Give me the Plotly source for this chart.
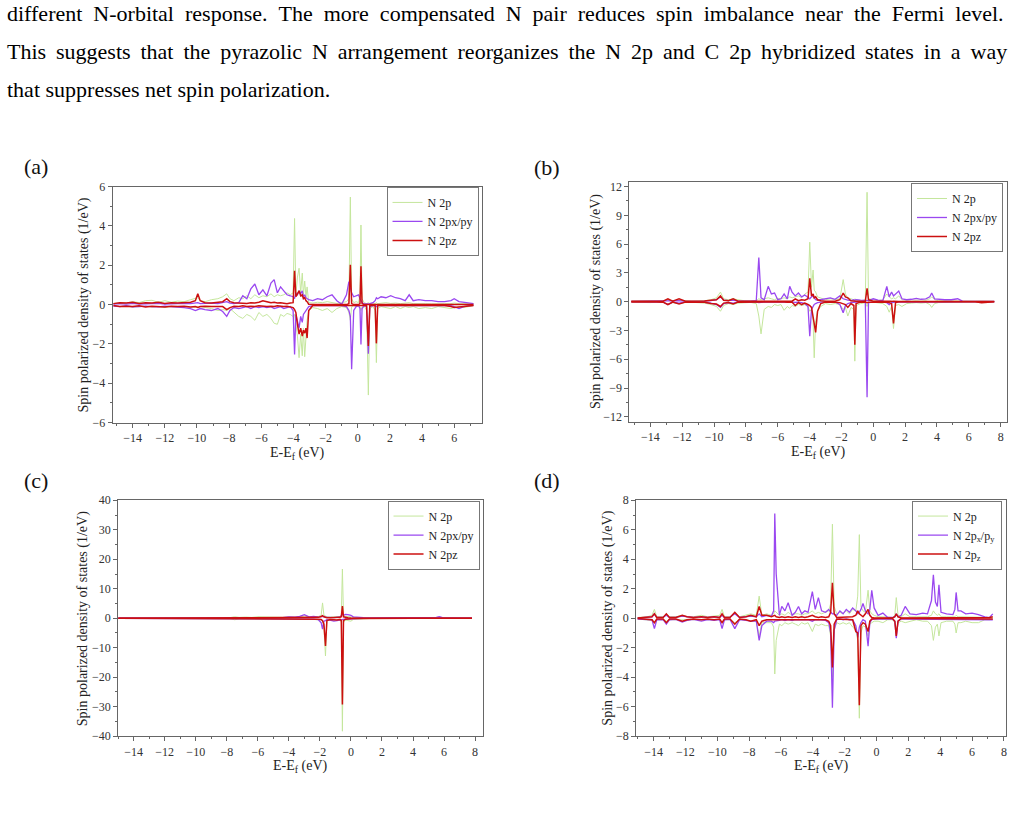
import plotly.graph_objects as go

# ===================== DATA =====================
# ---- panel (a) ----
a_energy = [-15.2, -14.8, -14.4, -14.0, -13.6, -13.2, -12.8, -12.4, -12.0, -11.6,
            -11.2, -10.8, -10.4, -10.1, -9.95, -9.8, -9.5, -9.1, -8.7, -8.4,
            -8.15, -7.95, -7.7, -7.4, -7.15, -6.9, -6.65, -6.4, -6.15, -5.9,
            -5.65, -5.4, -5.2, -5.0, -4.8, -4.6, -4.4, -4.2, -4.02, -3.93,
            -3.85, -3.75, -3.65, -3.55, -3.45, -3.38, -3.3, -3.22, -3.15, -3.05,
            -2.8, -2.5, -2.2, -1.9, -1.6, -1.3, -1.0, -0.7, -0.55, -0.46,
            -0.38, -0.25, -0.1, 0.05, 0.14, 0.2, 0.27, 0.4, 0.55, 0.66,
            0.75, 0.95, 1.08, 1.16, 1.24, 1.45, 1.75, 2.05, 2.35, 2.65,
            2.95, 3.2, 3.45, 3.8, 4.2, 4.6, 5.0, 5.4, 5.8, 6.0,
            6.3, 6.6, 6.9, 7.2]
a_2p_up = [0.05, 0.1, 0.08, 0.15, 0.1, 0.2, 0.22, 0.12, 0.2, 0.12,
           0.18, 0.15, 0.25, 0.3, 0.35, 0.2, 0.15, 0.25, 0.3, 0.4,
           0.55, 0.3, 0.2, 0.35, 0.3, 0.45, 0.3, 0.5, 0.35, 0.45,
           0.4, 0.55, 0.4, 0.5, 0.45, 0.5, 0.6, 0.5, 0.6, 4.38,
           0.5, 1.4, 1.85, 0.6, 1.6, 0.5, 1.2, 0.4, 0.9, 0.1,
           0.08, 0.12, 0.1, 0.15, 0.1, 0.06, 0.1, 0.15, 0.3, 5.47,
           0.3, 0.1, 0.15, 0.1, 0.5, 4.05, 0.3, 0.1, 0.05, 0.1,
           0.06, 0.08, 0.05, 0.1, 0.05, 0.08, 0.1, 0.06, 0.08, 0.05,
           0.06, 0.1, 0.05, 0.06, 0.05, 0.04, 0.06, 0.05, 0.05, 0.08,
           0.05, 0.04, 0.05, 0.04]
a_2p_dn = [-0.05, -0.1, -0.08, -0.12, -0.1, -0.08, -0.12, -0.1, -0.15, -0.1,
           -0.12, -0.1, -0.15, -0.12, -0.1, -0.2, -0.15, -0.2, -0.3, -0.25,
           -0.3, -0.2, -0.4, -0.6, -0.7, -0.5, -0.6, -0.8, -0.4, -0.6,
           -0.5, -0.7, -0.95, -1.0, -0.5, -0.6, -0.45, -0.5, -0.6, -0.5,
           -1.0, -1.6, -2.7, -1.5, -2.6, -1.2, -2.65, -1.4, -0.8, -0.3,
           -0.15, -0.2, -0.3, -0.2, -0.4, -0.2, -0.1, -0.15, -0.4, -0.8,
           -0.1, -0.05, -0.1, -0.05, -0.1, -0.3, -0.1, -0.05, -0.3, -4.6,
           -0.2, -0.1, -0.3, -2.95, -0.2, -0.1, -0.15, -0.2, -0.1, -0.2,
           -0.1, -0.15, -0.1, -0.2, -0.15, -0.2, -0.1, -0.15, -0.2, -0.15,
           -0.1, -0.15, -0.1, -0.05]
a_pxy_up = [0.03, 0.05, 0.02, 0.06, 0.03, 0.05, 0.04, 0.06, 0.03, 0.05,
            0.04, 0.06, 0.05, 0.08, 0.1, 0.05, 0.06, 0.08, 0.05, 0.1,
            0.15, 0.08, 0.05, 0.1, 0.45, 0.3, 0.8, 1.05, 0.5, 0.75,
            0.45, 1.1, 1.27, 0.6, 0.9, 0.7, 0.5, 0.45, 0.4, 0.3,
            0.6, 0.5, 0.7, 0.55, 0.7, 0.4, 0.5, 0.35, 0.3, 0.25,
            0.2, 0.3, 0.25, 0.4, 0.5, 0.2, 0.02, 0.5, 1.17, 0.8,
            0.6, 0.4, 0.45, 0.5, 0.3, 0.2, 0.1, 0.03, 0.02, 0.03,
            0.05, 0.1, 0.2, 0.35, 0.3, 0.4, 0.35, 0.45, 0.35, 0.3,
            0.2, 0.5, 0.2, 0.25, 0.2, 0.2, 0.15, 0.15, 0.2, 0.3,
            0.15, 0.12, 0.1, 0.05]
a_pxy_dn = [-0.08, -0.1, -0.05, -0.12, -0.1, -0.08, -0.1, -0.12, -0.08, -0.1,
            -0.12, -0.15, -0.2, -0.3, -0.25, -0.2, -0.25, -0.3, -0.2, -0.35,
            -0.6, -0.3, -0.15, -0.2, -0.15, -0.1, -0.2, -0.1, -0.15, -0.1,
            -0.15, -0.1, -0.2, -0.15, -0.1, -0.2, -0.15, -0.1, -0.3, -2.53,
            -0.5, -0.8, -1.2, -0.6, -0.9, -0.5, -0.4, -0.3, -0.2, -0.1,
            -0.05, -0.05, -0.04, -0.05, -0.05, -0.04, -0.05, -0.1, -0.3, -0.6,
            -3.28, -0.3, -0.1, -0.05, -0.2, -2.03, -0.2, -0.05, -0.1, -2.5,
            -0.1, -0.05, -0.05, -0.1, -0.05, -0.04, -0.05, -0.04, -0.05, -0.04,
            -0.05, -0.04, -0.05, -0.04, -0.05, -0.04, -0.05, -0.04, -0.05, -0.1,
            -0.2, -0.1, -0.05, -0.04]
a_pz_up = [0.05, 0.1, 0.08, 0.12, 0.06, 0.1, 0.08, 0.12, 0.06, 0.1,
           0.08, 0.1, 0.12, 0.2, 0.55, 0.2, 0.1, 0.08, 0.1, 0.15,
           0.3, 0.15, 0.1, 0.08, 0.1, 0.06, 0.1, 0.08, 0.12, 0.2,
           0.15, 0.1, 0.12, 0.08, 0.1, 0.06, 0.05, 0.08, 0.1, 1.72,
           0.4, 0.55, 0.7, 0.45, 0.5, 0.3, 0.35, 0.2, 0.15, 0.02,
           0.0, 0.0, 0.0, 0.0, 0.0, 0.0, 0.0, 0.0, 0.05, 2.03,
           0.05, 0.0, 0.0, 0.0, 0.05, 1.95, 0.05, 0.0, 0.0, 0.0,
           0.0, 0.0, 0.0, 0.0, 0.0, 0.0, 0.0, 0.0, 0.0, 0.0,
           0.0, 0.0, 0.0, 0.0, 0.0, 0.0, 0.0, 0.0, 0.0, 0.0,
           0.0, 0.0, 0.0, 0.0]
a_pz_dn = [-0.05, -0.1, -0.08, -0.1, -0.06, -0.12, -0.08, -0.1, -0.12, -0.08,
           -0.1, -0.08, -0.12, -0.1, -0.15, -0.1, -0.08, -0.1, -0.12, -0.1,
           -0.25, -0.15, -0.08, -0.1, -0.06, -0.1, -0.08, -0.1, -0.06, -0.08,
           -0.1, -0.08, -0.1, -0.06, -0.08, -0.1, -0.08, -0.1, -0.15, -0.25,
           -0.4, -1.0, -1.5, -1.2, -1.6, -1.3, -1.45, -1.2, -1.7, -0.3,
           -0.05, -0.05, -0.05, -0.05, -0.05, -0.05, -0.05, -0.05, -0.05, -0.05,
           -0.05, -0.05, -0.05, -0.05, -0.05, -0.05, -0.05, -0.05, -0.05, -2.1,
           -0.05, -0.05, -0.05, -1.97, -0.05, -0.05, -0.05, -0.05, -0.05, -0.05,
           -0.05, -0.05, -0.05, -0.05, -0.05, -0.05, -0.05, -0.05, -0.1, -0.15,
           -0.12, -0.1, -0.08, -0.05]

# ---- panel (b) ----
b_energy = [-15.2, -14.8, -14.4, -14.0, -13.6, -13.2, -12.9, -12.6, -12.2, -11.8,
            -11.4, -11.0, -10.6, -10.2, -9.85, -9.6, -9.4, -9.1, -8.8, -8.5,
            -8.1, -7.7, -7.35, -7.19, -7.05, -6.85, -6.6, -6.4, -6.2, -6.0,
            -5.8, -5.6, -5.4, -5.25, -5.1, -4.9, -4.7, -4.5, -4.3, -4.1,
            -3.99, -3.88, -3.78, -3.71, -3.62, -3.5, -3.3, -3.0, -2.7, -2.4,
            -2.1, -1.89, -1.75, -1.6, -1.4, -1.22, -1.16, -1.08, -0.8, -0.5,
            -0.39, -0.3, 0.0, 0.3, 0.6, 0.85, 1.0, 1.15, 1.27, 1.4,
            1.6, 1.8, 2.1, 2.4, 2.7, 3.0, 3.3, 3.55, 3.67, 3.85,
            4.1, 4.5, 4.9, 5.3, 5.6, 6.0, 6.4, 6.8, 7.2, 7.6]
b_2p_up = [0.05, 0.08, 0.05, 0.1, 0.06, 0.08, 0.2, 0.1, 0.15, 0.08,
           0.06, 0.08, 0.1, 0.2, 0.4, 1.0, 0.3, 0.2, 0.3, 0.2,
           0.1, 0.08, 0.1, 0.3, 0.2, 0.3, 0.4, 0.3, 0.2, 0.35,
           0.3, 0.4, 0.3, 0.5, 0.4, 0.5, 0.6, 0.4, 0.8, 1.0,
           6.2, 1.5, 3.3, 1.2, 1.0, 0.5, 0.4, 0.2, 0.3, 0.2,
           0.3, 2.3, 0.8, 0.4, 0.3, 0.2, 0.3, 0.2, 0.1, 0.2,
           11.4, 0.3, 0.2, 0.1, 0.2, 0.8, 0.5, 0.3, 0.4, 0.3,
           0.6, 0.2, 0.15, 0.2, 0.15, 0.2, 0.15, 0.3, 0.5, 0.2,
           0.1, 0.08, 0.1, 0.08, 0.05, 0.06, 0.05, 0.06, 0.05, 0.04]
b_2p_dn = [-0.05, -0.08, -0.06, -0.1, -0.05, -0.08, -0.3, -0.1, -0.2, -0.08,
           -0.06, -0.1, -0.15, -0.3, -0.5, -1.0, -0.4, -0.2, -0.3, -0.15,
           -0.1, -0.08, -0.2, -1.5, -3.36, -0.8, -0.5, -0.6, -0.3, -0.4,
           -0.3, -0.9, -0.5, -0.7, -0.4, -0.5, -0.3, -0.4, -0.3, -0.5,
           -1.0, -0.8, -2.0, -5.85, -2.0, -1.0, -0.5, -0.2, -0.3, -0.2,
           -0.3, -0.8, -0.6, -1.5, -0.6, -0.8, -6.2, -0.4, -0.2, -0.1,
           -0.5, -0.1, -0.05, -0.1, -0.2, -0.5, -1.1, -0.5, -2.8, -0.4,
           -0.3, -0.5, -0.2, -0.15, -0.1, -0.15, -0.1, -0.3, -0.6, -0.2,
           -0.1, -0.08, -0.06, -0.05, -0.05, -0.05, -0.04, -0.05, -0.04, -0.03]
b_pxy_up = [0.02, 0.03, 0.02, 0.04, 0.03, 0.05, 0.1, 0.05, 0.1, 0.04,
            0.03, 0.04, 0.05, 0.1, 0.2, 0.5, 0.15, 0.1, 0.15, 0.05,
            0.04, 0.05, 0.1, 4.6, 0.4, 0.2, 1.6, 0.8, 0.9, 0.2,
            0.3, 0.8, 0.3, 1.6, 1.0, 0.6, 0.9, 0.5, 0.7, 0.5,
            0.3, 0.5, 0.6, 0.4, 0.2, 0.15, 0.2, 0.3, 0.4, 0.25,
            0.6, 0.3, 0.2, 0.15, 0.1, 0.2, 0.15, 0.2, 0.15, 0.1,
            0.1, 0.1, 0.3, 0.15, 0.1, 1.6, 0.5, 1.0, 0.6, 0.8,
            1.1, 0.3, 0.2, 0.25, 0.35, 0.25, 0.3, 0.5, 0.9, 0.3,
            0.25, 0.2, 0.2, 0.3, 0.05, 0.04, 0.03, 0.04, 0.03, 0.02]
b_pxy_dn = [-0.02, -0.03, -0.02, -0.04, -0.03, -0.05, -0.3, -0.05, -0.15, -0.04,
            -0.03, -0.04, -0.08, -0.15, -0.3, -0.6, -0.2, -0.1, -0.15, -0.05,
            -0.03, -0.04, -0.05, -0.1, -0.05, -0.03, -0.05, -0.04, -0.05, -0.03,
            -0.04, -0.05, -0.03, -0.05, -0.04, -0.08, -0.05, -0.1, -0.2, -0.5,
            -3.6, -0.8, -0.5, -0.3, -0.2, -0.1, -0.05, -0.04, -0.05, -0.04,
            -0.3, -1.15, -0.4, -0.2, -0.1, -0.05, -0.04, -0.05, -0.04, -0.05,
            -9.95, -0.1, -0.04, -0.03, -0.05, -0.1, -0.3, -0.1, -0.05, -0.04,
            -0.04, -0.03, -0.04, -0.03, -0.04, -0.03, -0.04, -0.03, -0.05, -0.03,
            -0.03, -0.02, -0.03, -0.02, -0.02, -0.02, -0.02, -0.02, -0.02, -0.02]
b_pz_up = [0.03, 0.05, 0.03, 0.06, 0.04, 0.05, 0.3, 0.05, 0.3, 0.05,
           0.04, 0.05, 0.06, 0.15, 0.2, 0.6, 0.15, 0.1, 0.3, 0.05,
           0.04, 0.05, 0.05, 0.08, 0.05, 0.04, 0.05, 0.04, 0.05, 0.04,
           0.05, 0.04, 0.05, 0.06, 0.05, 0.3, 0.1, 0.2, 0.15, 0.3,
           2.44, 0.6, 0.8, 0.4, 0.5, 0.2, 0.1, 0.05, 0.04, 0.05,
           0.2, 0.9, 0.5, 0.4, 0.1, 0.05, 0.05, 0.04, 0.03, 0.05,
           1.4, 0.2, 0.05, 0.03, 0.02, 0.03, 0.02, 0.03, 0.05, 0.02,
           0.02, 0.02, 0.02, 0.02, 0.02, 0.02, 0.02, 0.02, 0.02, 0.02,
           0.02, 0.02, 0.02, 0.02, 0.02, 0.02, 0.02, 0.05, 0.03, 0.02]
b_pz_dn = [-0.03, -0.05, -0.03, -0.06, -0.04, -0.05, -0.3, -0.05, -0.25, -0.05,
           -0.04, -0.05, -0.06, -0.2, -0.25, -0.5, -0.15, -0.1, -0.25, -0.05,
           -0.04, -0.05, -0.05, -0.08, -0.05, -0.04, -0.05, -0.04, -0.05, -0.04,
           -0.05, -0.04, -0.05, -0.06, -0.05, -0.4, -0.1, -0.3, -0.15, -0.3,
           -0.4, -0.6, -1.5, -2.5, -3.2, -1.0, -0.2, -0.05, -0.04, -0.05,
           -0.1, -0.2, -0.3, -0.6, -0.2, -0.4, -4.5, -0.2, -0.05, -0.04,
           -0.1, -0.05, -0.03, -0.02, -0.02, -0.03, -0.1, -0.2, -2.27, -0.1,
           -0.02, -0.02, -0.02, -0.02, -0.02, -0.02, -0.02, -0.02, -0.02, -0.02,
           -0.02, -0.02, -0.02, -0.02, -0.02, -0.02, -0.02, -0.1, -0.05, -0.02]

# ---- panel (c) ----
c_energy = [-15.0, -13.0, -11.0, -10.0, -9.0, -8.7, -8.2, -7.8, -7.5, -7.2,
            -6.8, -6.4, -6.0, -5.6, -5.2, -4.8, -4.4, -4.0, -3.6, -3.3,
            -3.0, -2.7, -2.4, -2.1, -1.92, -1.83, -1.74, -1.64, -1.55, -1.35,
            -1.1, -0.9, -0.7, -0.62, -0.55, -0.48, -0.35, -0.2, 0.0, 0.15,
            0.4, 0.8, 1.2, 2.0, 3.0, 4.0, 5.0, 5.5, 5.7, 5.9,
            6.5, 7.2, 7.8]
c_2p_up = [0.0, 0.05, 0.05, 0.1, 0.1, 0.2, 0.3, 0.2, 0.5, 0.3,
           0.4, 0.3, 0.5, 0.4, 0.3, 0.3, 0.3, 0.4, 0.5, 0.4,
           0.8, 0.4, 0.5, 0.6, 1.0, 5.2, 1.0, 0.8, 0.5, 0.4,
           0.5, 0.4, 0.6, 1.0, 16.7, 1.0, 0.5, 0.6, 0.4, 0.3,
           0.2, 0.15, 0.1, 0.1, 0.1, 0.1, 0.15, 0.2, 0.5, 0.2,
           0.1, 0.05, 0.0]
c_2p_dn = [0.0, -0.05, -0.05, -0.1, -0.1, -0.2, -0.3, -0.2, -0.5, -0.3,
           -0.3, -0.4, -0.3, -0.4, -0.3, -0.2, -0.3, -0.3, -0.4, -0.3,
           -0.4, -0.3, -0.4, -0.5, -0.6, -1.0, -3.0, -12.8, -1.0, -0.5,
           -0.8, -0.5, -0.6, -1.5, -38.3, -1.5, -0.6, -0.8, -1.0, -0.4,
           -0.3, -0.2, -0.1, -0.1, -0.1, -0.1, -0.1, -0.1, -0.3, -0.1,
           -0.05, -0.05, 0.0]
c_pxy_up = [0.0, 0.02, 0.02, 0.05, 0.05, 0.1, 0.2, 0.1, 0.3, 0.1,
            0.2, 0.1, 0.2, 0.3, 0.2, 0.3, 0.2, 0.5, 0.4, 0.6,
            1.2, 0.5, 0.6, 0.4, 0.5, 0.8, 0.6, 0.4, 0.3, 0.3,
            0.2, 0.3, 0.5, 0.8, 1.4, 1.0, 1.3, 1.2, 1.0, 0.5,
            0.3, 0.2, 0.1, 0.1, 0.1, 0.1, 0.2, 0.3, 0.5, 0.2,
            0.1, 0.05, 0.0]
c_pxy_dn = [0.0, -0.02, -0.02, -0.05, -0.05, -0.1, -0.2, -0.1, -0.3, -0.1,
            -0.2, -0.1, -0.2, -0.2, -0.1, -0.2, -0.1, -0.2, -0.2, -0.3,
            -0.3, -0.2, -0.3, -0.5, -1.5, -3.7, -1.0, -0.8, -0.5, -0.6,
            -1.0, -0.8, -0.5, -0.4, -0.5, -0.3, -0.2, -0.3, -0.2, -0.1,
            -0.1, -0.05, -0.05, -0.05, -0.05, -0.05, -0.05, -0.1, -0.2, -0.1,
            -0.05, -0.02, 0.0]
c_pz_up = [0.0, 0.02, 0.02, 0.05, 0.05, 0.1, 0.2, 0.1, 0.3, 0.1,
           0.2, 0.1, 0.2, 0.2, 0.1, 0.2, 0.1, 0.2, 0.2, 0.2,
           0.3, 0.2, 0.3, 0.3, 0.6, 0.9, 0.5, 0.3, 0.2, 0.2,
           0.2, 0.2, 0.3, 0.5, 4.1, 0.5, 0.3, 0.2, 0.1, 0.05,
           0.05, 0.02, 0.02, 0.02, 0.02, 0.02, 0.02, 0.05, 0.2, 0.05,
           0.02, 0.02, 0.0]
c_pz_dn = [0.0, -0.02, -0.02, -0.05, -0.05, -0.1, -0.2, -0.1, -0.3, -0.1,
           -0.2, -0.1, -0.2, -0.2, -0.1, -0.2, -0.1, -0.2, -0.2, -0.2,
           -0.2, -0.2, -0.2, -0.3, -0.4, -0.8, -2.0, -9.4, -0.8, -0.4,
           -0.5, -0.6, -0.4, -0.8, -29.2, -0.8, -0.3, -0.2, -0.1, -0.05,
           -0.05, -0.02, -0.02, -0.02, -0.02, -0.02, -0.02, -0.05, -0.1, -0.05,
           -0.02, -0.02, 0.0]

# ---- panel (d) ----
d_energy = [-15.0, -14.4, -14.1, -13.95, -13.8, -13.4, -13.2, -13.0, -12.6, -12.2,
            -11.9, -11.5, -11.0, -10.6, -10.2, -9.85, -9.7, -9.55, -9.2, -8.9,
            -8.6, -8.2, -7.9, -7.55, -7.37, -7.2, -6.9, -6.6, -6.46, -6.39,
            -6.3, -6.1, -5.95, -5.75, -5.55, -5.3, -5.1, -4.9, -4.7, -4.5,
            -4.3, -4.03, -3.85, -3.65, -3.45, -3.2, -3.0, -2.88, -2.77, -2.66,
            -2.5, -2.3, -2.1, -1.9, -1.7, -1.5, -1.3, -1.18, -1.08, -0.98,
            -0.85, -0.7, -0.53, -0.42, -0.3, -0.15, 0.1, 0.4, 0.7, 1.0,
            1.15, 1.24, 1.35, 1.55, 1.8, 2.1, 2.5, 2.9, 3.2, 3.45,
            3.57, 3.7, 3.82, 3.92, 4.05, 4.4, 4.8, 4.92, 5.0, 5.12,
            5.3, 5.6, 6.0, 6.4, 6.8, 7.1, 7.3]
d_2p_up = [0.05, 0.1, 0.2, 0.6, 0.1, 0.1, 0.3, 0.1, 0.1, 0.2,
           0.1, 0.1, 0.2, 0.1, 0.15, 0.2, 0.6, 0.1, 0.1, 0.4,
           0.1, 0.2, 0.3, 0.2, 1.5, 0.2, 0.3, 0.2, 0.3, 0.5,
           0.4, 0.2, 0.3, 0.2, 0.4, 0.2, 0.3, 0.3, 0.2, 0.3,
           0.3, 0.5, 0.3, 0.4, 0.3, 0.4, 0.5, 1.0, 6.38, 0.8,
           0.3, 0.4, 0.3, 0.5, 0.3, 0.6, 0.5, 1.5, 5.67, 0.8,
           0.5, 0.4, 1.9, 0.5, 0.3, 0.2, 0.1, 0.1, 0.05, 0.05,
           0.2, 1.4, 0.2, 0.1, 0.3, 0.1, 0.1, 0.1, 0.1, 0.2,
           0.5, 0.3, 0.2, 0.3, 0.1, 0.1, 0.1, 0.1, 0.2, 0.1,
           0.1, 0.1, 0.1, 0.1, 0.05, 0.05, 0.05]
d_2p_dn = [-0.05, -0.1, -0.15, -0.3, -0.1, -0.1, -0.2, -0.1, -0.1, -0.15,
           -0.1, -0.1, -0.15, -0.1, -0.1, -0.1, -0.3, -0.1, -0.1, -0.3,
           -0.1, -0.1, -0.2, -0.2, -1.2, -0.3, -0.3, -0.3, -0.6, -3.78,
           -1.5, -0.4, -0.5, -0.3, -0.4, -0.3, -0.4, -0.5, -0.3, -0.4,
           -0.3, -0.9, -0.4, -0.5, -0.4, -0.5, -0.5, -1.2, -4.0, -0.8,
           -0.3, -0.4, -0.3, -0.4, -0.3, -0.6, -0.8, -1.5, -6.78, -1.0,
           -0.5, -0.6, -1.2, -0.4, -0.3, -0.2, -0.2, -0.3, -0.1, -0.1,
           -0.3, -1.0, -0.3, -0.2, -0.3, -0.2, -0.1, -0.2, -0.2, -0.5,
           -1.5, -0.6, -0.4, -1.2, -0.3, -0.2, -0.2, -0.4, -1.0, -0.3,
           -0.3, -0.2, -0.3, -0.3, -0.1, -0.1, -0.05]
d_pxy_up = [0.02, 0.05, 0.1, 0.3, 0.05, 0.08, 0.2, 0.05, 0.06, 0.15,
            0.1, 0.05, 0.1, 0.06, 0.1, 0.05, 0.2, 0.05, 0.08, 0.3,
            0.05, 0.1, 0.15, 0.1, 0.3, 0.1, 0.2, 0.15, 0.5, 7.1,
            3.0, 0.2, 0.8, 0.5, 1.05, 0.2, 0.4, 0.8, 0.3, 0.5,
            0.4, 1.8, 0.6, 1.4, 0.5, 0.4, 0.6, 0.4, 0.3, 0.3,
            0.2, 0.5, 0.3, 0.6, 0.4, 0.7, 0.5, 0.3, 0.4, 0.6,
            1.0, 0.5, 0.3, 0.6, 1.9, 0.7, 0.2, 0.35, 0.05, 0.05,
            0.1, 0.3, 0.1, 0.2, 0.8, 0.3, 0.25, 0.35, 0.3, 1.2,
            2.95, 1.1, 0.8, 2.27, 0.4, 0.3, 0.25, 0.6, 1.75, 0.5,
            0.5, 0.3, 0.35, 0.25, 0.1, 0.05, 0.3]
d_pxy_dn = [-0.05, -0.08, -0.1, -0.7, -0.1, -0.1, -0.4, -0.1, -0.08, -0.25,
            -0.15, -0.08, -0.2, -0.1, -0.15, -0.1, -0.7, -0.1, -0.08, -0.7,
            -0.1, -0.15, -0.2, -0.2, -1.5, -0.5, -0.2, -0.2, -0.3, -0.2,
            -0.2, -0.15, -0.1, -0.15, -0.1, -0.15, -0.1, -0.1, -0.1, -0.1,
            -0.1, -0.2, -0.1, -0.1, -0.1, -0.15, -0.3, -1.0, -6.07, -0.8,
            -0.1, -0.05, -0.1, -0.05, -0.1, -0.1, -0.5, -1.3, -0.6, -0.3,
            -0.1, -0.2, -1.9, -0.3, -0.1, -0.05, -0.05, -0.05, -0.05, -0.05,
            -0.2, -1.35, -0.2, -0.05, -0.05, -0.05, -0.05, -0.05, -0.05, -0.05,
            -0.05, -0.05, -0.05, -0.05, -0.05, -0.05, -0.05, -0.05, -0.05, -0.05,
            -0.05, -0.05, -0.05, -0.05, -0.05, -0.05, -0.1]
d_pz_up = [0.02, 0.05, 0.1, 0.3, 0.05, 0.05, 0.3, 0.05, 0.05, 0.2,
           0.1, 0.05, 0.1, 0.05, 0.1, 0.05, 0.3, 0.05, 0.05, 0.4,
           0.05, 0.1, 0.2, 0.1, 0.8, 0.2, 0.2, 0.1, 0.2, 0.2,
           0.1, 0.05, 0.1, 0.05, 0.1, 0.05, 0.1, 0.05, 0.1, 0.05,
           0.1, 0.2, 0.1, 0.05, 0.1, 0.05, 0.1, 0.4, 2.4, 0.3,
           0.05, 0.05, 0.05, 0.05, 0.05, 0.1, 0.2, 0.5, 0.3, 0.2,
           0.1, 0.3, 0.6, 0.2, 0.05, 0.02, 0.02, 0.02, 0.02, 0.02,
           0.1, 0.3, 0.1, 0.02, 0.02, 0.02, 0.02, 0.02, 0.02, 0.02,
           0.02, 0.02, 0.02, 0.02, 0.02, 0.02, 0.02, 0.02, 0.02, 0.02,
           0.02, 0.02, 0.02, 0.02, 0.02, 0.05, 0.1]
d_pz_dn = [-0.02, -0.05, -0.1, -0.3, -0.05, -0.05, -0.3, -0.05, -0.05, -0.2,
           -0.1, -0.05, -0.1, -0.05, -0.1, -0.05, -0.3, -0.05, -0.05, -0.4,
           -0.05, -0.1, -0.2, -0.1, -0.5, -0.2, -0.1, -0.1, -0.1, -0.1,
           -0.1, -0.05, -0.1, -0.05, -0.1, -0.05, -0.1, -0.05, -0.1, -0.05,
           -0.05, -0.1, -0.05, -0.1, -0.05, -0.1, -0.2, -0.5, -3.33, -0.4,
           -0.05, -0.05, -0.05, -0.05, -0.05, -0.1, -0.9, -1.0, -5.9, -0.5,
           -0.3, -0.4, -0.9, -0.2, -0.05, -0.02, -0.02, -0.02, -0.02, -0.02,
           -0.2, -1.2, -0.2, -0.02, -0.02, -0.02, -0.02, -0.02, -0.02, -0.02,
           -0.02, -0.02, -0.02, -0.02, -0.02, -0.02, -0.02, -0.02, -0.02, -0.02,
           -0.02, -0.02, -0.02, -0.02, -0.02, -0.05, -0.05]

# legend labels
names_plain = ["N 2p", "N 2px/py", "N 2pz"]
names_sub = ["N 2p", "N 2p<sub>x</sub>/p<sub>y</sub>", "N 2p<sub>z</sub>"]

# axis ranges and tick steps
a_xrange, a_yrange, a_ydtick = [-15.25, 7.7], [-6, 6], 2
b_xrange, b_yrange, b_ydtick = [-15.32, 8.4], [-12.5, 12.5], 3
c_xrange, c_yrange, c_ydtick = [-15.0, 8.5], [-40, 40], 10
d_xrange, d_yrange, d_ydtick = [-15.1, 8.15], [-8, 8], 2

top_lines = [
    "different N-orbital response. The more compensated N pair reduces spin imbalance near the Fermi level.",
    "This suggests that the pyrazolic N arrangement reorganizes the N 2p and C 2p hybridized states in a way",
    "that suppresses net spin polarization.",
]
# extra inter-word spacing that mimics the justified paragraph (last line is not justified)
top_word_gaps = [" \u2005", " \u2009", " "]
panel_labels = ["(a)", "(b)", "(c)", "(d)"]
y_title = "Spin polarized density of states (1/eV)"
x_title = "E-E<sub>f</sub> (eV)"

# ===================== FIGURE =====================
W, H = 1015, 833
SERIF = "Liberation Serif"
COLORS = ["#c4e69c", "#9a48f0", "#cc1010"]
WIDTHS = [1.0, 1.3, 1.5]
AX = "#666666"


def px(x):
    return x / W


def py(y):
    return 1 - y / H


panels = [
    dict(e=a_energy, series=[(a_2p_up, a_2p_dn), (a_pxy_up, a_pxy_dn), (a_pz_up, a_pz_dn)],
         names=names_plain, xr=a_xrange, yr=a_yrange, ydt=a_ydtick,
         box=(112.7, 482.0, 182.7, 422.7), leg=(479, 183), lab=(22, 162), yt=84),
    dict(e=b_energy, series=[(b_2p_up, b_2p_dn), (b_pxy_up, b_pxy_dn), (b_pz_up, b_pz_dn)],
         names=names_plain, xr=b_xrange, yr=b_yrange, ydt=b_ydtick,
         box=(630.0, 1008.0, 177.7, 421.7), leg=(1004, 179), lab=(533, 163), yt=596),
    dict(e=c_energy, series=[(c_2p_up, c_2p_dn), (c_pxy_up, c_pxy_dn), (c_pz_up, c_pz_dn)],
         names=names_plain, xr=c_xrange, yr=c_yrange, ydt=c_ydtick,
         box=(118.3, 483.3, 501.7, 741.7), leg=(480, 502), lab=(22, 482), yt=83),
    dict(e=d_energy, series=[(d_2p_up, d_2p_dn), (d_pxy_up, d_pxy_dn), (d_pz_up, d_pz_dn)],
         names=names_sub, xr=d_xrange, yr=d_yrange, ydt=d_ydtick,
         box=(636.7, 1007.3, 501.7, 741.7), leg=(1003, 502), lab=(533, 482), yt=609),
]

fig = go.Figure()
layout = dict(width=W, height=H, margin=dict(l=0, r=0, t=0, b=0),
              paper_bgcolor="white", plot_bgcolor="white", showlegend=True)
annotations = []
tickfont = dict(family=SERIF, size=12, color="#333333")

for i, p in enumerate(panels):
    n = "" if i == 0 else str(i + 1)
    legname = "legend" + n
    e = p["e"]
    for k, (up, dn) in enumerate(p["series"]):
        assert len(up) == len(e) and len(dn) == len(e), (i, k, len(e), len(up), len(dn))
        fig.add_trace(go.Scatter(
            x=list(e) + [None] + list(e),
            y=list(up) + [None] + list(dn),
            mode="lines", name=p["names"][k],
            line=dict(color=COLORS[k], width=WIDTHS[k]),
            xaxis="x" + n, yaxis="y" + n, legend=legname,
            connectgaps=False))
    x0, x1, y0, y1 = p["box"]
    layout["xaxis" + n] = dict(
        domain=[px(x0), px(x1)], range=p["xr"], anchor="y" + n,
        showline=True, linecolor=AX, linewidth=1, mirror=True,
        ticks="outside", ticklen=4, tickcolor=AX, tick0=0, dtick=2,
        minor=dict(ticks="outside", ticklen=2, tickcolor=AX, dtick=1),
        showgrid=False, zeroline=False, tickfont=tickfont)
    layout["yaxis" + n] = dict(
        domain=[py(y1), py(y0)], range=p["yr"], anchor="x" + n,
        showline=True, linecolor=AX, linewidth=1, mirror=True,
        ticks="outside", ticklen=4, tickcolor=AX, tick0=0, dtick=p["ydt"],
        minor=dict(ticks="outside", ticklen=2, tickcolor=AX, dtick=p["ydt"] / 2),
        showgrid=False, zeroline=False, tickfont=tickfont)
    lx, ly = p["leg"]
    layout[legname] = dict(
        x=px(lx), y=py(ly), xanchor="right", yanchor="top",
        bgcolor="white", bordercolor="#777777", borderwidth=1,
        font=dict(family=SERIF, size=12, color="#222222"),
        tracegroupgap=0, itemwidth=30)
    # axis titles
    annotations.append(dict(
        text=y_title, textangle=-90, x=px(p["yt"]), y=py((y0 + y1) / 2),
        xref="paper", yref="paper", xanchor="center", yanchor="middle",
        showarrow=False, font=dict(family=SERIF, size=14, color="#222222")))
    annotations.append(dict(
        text=x_title, x=px((x0 + x1) / 2), y=py(y1 + 31),
        xref="paper", yref="paper", xanchor="center", yanchor="middle",
        showarrow=False, font=dict(family=SERIF, size=14, color="#222222")))
    lx0, ly0 = p["lab"]
    annotations.append(dict(
        text=panel_labels[i], x=px(lx0), y=py(ly0),
        xref="paper", yref="paper", xanchor="left", yanchor="middle",
        showarrow=False, font=dict(family=SERIF, size=22, color="#111111")))

for j, line in enumerate(top_lines):
    annotations.append(dict(
        text=top_word_gaps[j].join(line.split(" ")), x=px(5), y=py(7 + 38.5 * j),
        xref="paper", yref="paper", xanchor="left", yanchor="middle",
        showarrow=False, font=dict(family=SERIF, size=22, color="#000000")))

layout["annotations"] = annotations
fig.update_layout(**layout)
fig.write_html("out.html")
